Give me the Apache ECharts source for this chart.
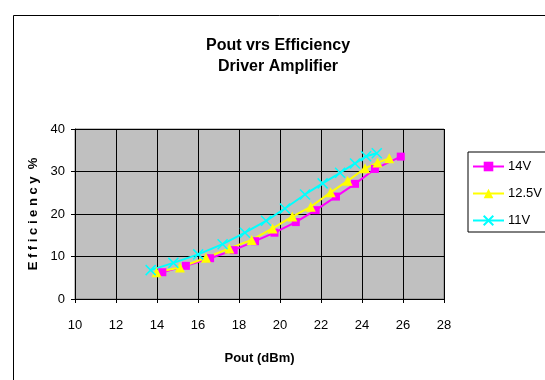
<!DOCTYPE html>
<html><head><meta charset="utf-8">
<script src="https://cdn.jsdelivr.net/npm/echarts@6/dist/echarts.min.js"></script>
<style>html,body{margin:0;padding:0;background:#fff}#c{width:545px;height:380px}</style>
</head><body><div id="c"></div>
<script>
const seriesNames = ['14V', '12.5V', '11V'];
const x14 = [14.26, 15.41, 16.59, 17.74, 18.78, 19.73, 20.77, 21.74, 22.73, 23.66, 24.63, 25.89];
const y14 = [6.3, 7.8, 9.6, 11.5, 13.6, 15.6, 18.1, 20.9, 24.1, 27.1, 30.6, 33.5];
const x125 = [13.98, 15.12, 16.39, 17.53, 18.62, 19.64, 20.6, 21.5, 22.47, 23.3, 24.15, 24.76, 25.33];
const y125 = [6.3, 7.4, 9.7, 11.9, 13.9, 16.6, 19.4, 21.7, 25.1, 27.8, 30.75, 32.1, 33.1];
const x11 = [13.69, 14.8, 16.01, 17.2, 18.29, 19.32, 20.24, 21.22, 22.08, 22.93, 23.66, 24.2, 24.72];
const y11 = [6.8, 8.5, 10.5, 12.9, 15.6, 18.4, 21.3, 24.6, 27.2, 29.7, 31.9, 33.6, 34.3];
const xTicks = [10, 12, 14, 16, 18, 20, 22, 24, 26, 28];
const yTicks = [0, 10, 20, 30, 40];

const pair = (xs, ys) => xs.map((v, i) => [v, ys[i]]);
const font = 'Liberation Sans, Arial, sans-serif';
const chart = echarts.init(document.getElementById('c'), null, {renderer: 'canvas'});
const crossPath = 'path://M0,0L10,10M10,0L0,10';

chart.setOption({
  animation: false,
  backgroundColor: '#fff',
  graphic: [{
    type: 'rect', left: 11, top: 13, shape: {width: 600, height: 400},
    style: {fill: 'none', stroke: '#000', lineWidth: 1}, silent: true
  }],
  title: {
    text: 'Pout vrs Efficiency\nDriver Amplifier',
    left: 273, top: 30, textAlign: 'center',
    textStyle: {fontFamily: font, fontWeight: 'bold', fontSize: 16, lineHeight: 21, color: '#000'}
  },
  legend: {
    orient: 'vertical', left: 468, top: 152,
    data: seriesNames,
    itemWidth: 31, itemHeight: 12, itemGap: 14,
    padding: [8, 8, 5, 4],
    borderColor: '#000', borderWidth: 1,
    textStyle: {fontFamily: font, fontSize: 13, color: '#000', padding: [0, 0, 0, -1]}
  },
  grid: {
    left: 75, right: 101, top: 129, bottom: 81,
    show: true, backgroundColor: '#C0C0C0', borderColor: '#808080', borderWidth: 1
  },
  xAxis: {
    type: 'value', min: xTicks[0], max: xTicks[xTicks.length - 1], interval: 2,
    name: 'Pout (dBm)', nameLocation: 'middle', nameGap: 53,
    nameTextStyle: {fontFamily: font, fontWeight: 'bold', fontSize: 13, color: '#000'},
    axisLine: {lineStyle: {color: '#000', width: 1}},
    axisTick: {show: true, length: 4, lineStyle: {color: '#000'}},
    axisLabel: {fontFamily: font, fontSize: 13, color: '#000', margin: 20},
    splitLine: {show: true, lineStyle: {color: '#000', width: 1}}
  },
  yAxis: {
    type: 'value', min: yTicks[0], max: yTicks[yTicks.length - 1], interval: 10,
    name: 'E f f i c i e n c y  %', nameLocation: 'middle', nameGap: 31, nameRotate: 90,
    nameTextStyle: {fontFamily: font, fontWeight: 'bold', fontSize: 13, color: '#000'},
    axisLine: {show: true, lineStyle: {color: '#000', width: 1}},
    axisTick: {show: true, length: 4, lineStyle: {color: '#000'}},
    axisLabel: {fontFamily: font, fontSize: 13, color: '#000', margin: 10},
    splitLine: {show: true, lineStyle: {color: '#000', width: 1}}
  },
  series: [
    {
      name: seriesNames[0], type: 'line', data: pair(x14, y14),
      symbol: 'rect', symbolSize: 8,
      lineStyle: {color: '#FF00FF', width: 2},
      itemStyle: {color: '#FF00FF'}
    },
    {
      name: seriesNames[1], type: 'line', data: pair(x125, y125),
      symbol: 'triangle', symbolSize: 10,
      lineStyle: {color: '#FFFF00', width: 2},
      itemStyle: {color: '#FFFF00'}
    },
    {
      name: seriesNames[2], type: 'line', data: pair(x11, y11),
      symbol: crossPath, symbolSize: 10,
      lineStyle: {color: '#00FFFF', width: 2},
      itemStyle: {color: '#00FFFF', borderColor: '#00FFFF', borderWidth: 1.5}
    }
  ]
});
</script></body></html>
